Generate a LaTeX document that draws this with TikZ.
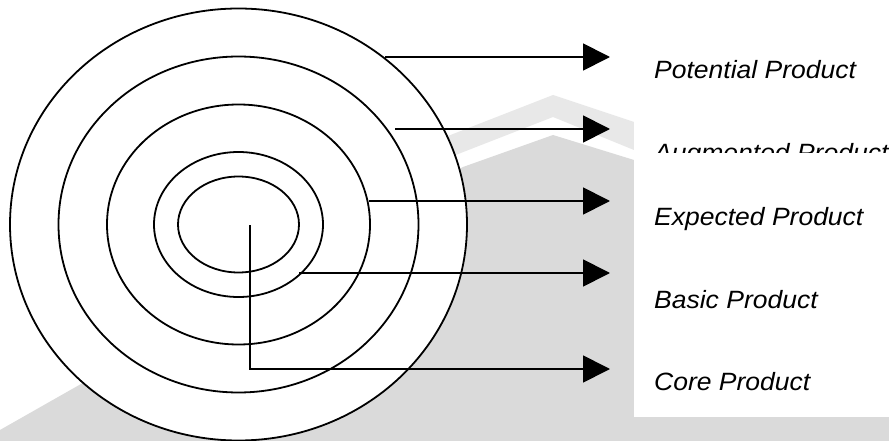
\documentclass[tikz,border=0pt]{standalone}
\usepackage{fontspec}
\setmainfont{Liberation Sans}
\newfontfamily\lblfont[FakeStretch=1.06]{Liberation Sans}
\usetikzlibrary{arrows.meta}
\definecolor{wmgray}{RGB}{218,218,218}
\definecolor{wmlight}{RGB}{232,232,232}
\tikzset{
  ring/.style={draw=black, line width=1.8pt, fill=white},
  conn/.style={draw=black, line width=1.8pt, -{Triangle[length=27pt,width=27pt]}},
  lbl/.style={anchor=base west, inner sep=0pt, font=\lblfont\fontsize{25}{30}\selectfont\itshape}
}
\begin{document}
\begin{tikzpicture}[x=1pt,y=-1pt]
\useasboundingbox (0,0) rectangle (889,441);
\fill[white] (0,0) rectangle (889,441);
% watermark background
\fill[wmlight] (430,143) -- (553,95) -- (634,122) -- (634,150) -- (553,117) -- (430,165) -- cycle;
\fill[wmgray] (0,441) -- (0,430) -- (463,167) -- (553,135) -- (634,160) -- (634,417) -- (889,417) -- (889,441) -- cycle;
\fill[white] (634,105) rectangle (889,417);
% rings
\coordinate (c) at (238.5,224.5);
\draw[ring] (c) ellipse [x radius=228.5pt, y radius=216pt];
\draw[ring] (c) ellipse [x radius=180pt, y radius=168pt];
\draw[ring] (c) ellipse [x radius=131.5pt, y radius=120pt];
\draw[ring] (c) ellipse [x radius=84.5pt, y radius=72.5pt];
\draw[ring] (c) ellipse [x radius=60.5pt, y radius=48pt];
% connector end points
\coordinate (s1) at (385,57);
\coordinate (e1) at (610,57);
\coordinate (s2) at (395,129);
\coordinate (e2) at (610,129);
\coordinate (s3) at (369,201);
\coordinate (e3) at (610,201);
\coordinate (s4) at (299,273);
\coordinate (e4) at (610,273);
\coordinate (s5) at (250,225);
\coordinate (k5) at (250,369);
\coordinate (e5) at (610,369);
\draw[conn] (s1) -- (e1);
\draw[conn] (s2) -- (e2);
\draw[conn] (s3) -- (e3);
\draw[conn] (s4) -- (e4);
\draw[conn] (s5) -- (k5) -- (e5);
% labels
\node[lbl] (tpot) at (654,78.5) {Potential Product};
\begin{scope}
\clip (630,100) rectangle (889,153);
\node[lbl] (taug) at (654,162) {Augmented Product};
\end{scope}
\node[lbl] (texp) at (654,225.5) {Expected Product};
\node[lbl] (tbas) at (654,308) {Basic Product};
\node[lbl] (tcor) at (654,390.5) {Core Product};
\end{tikzpicture}
\end{document}
